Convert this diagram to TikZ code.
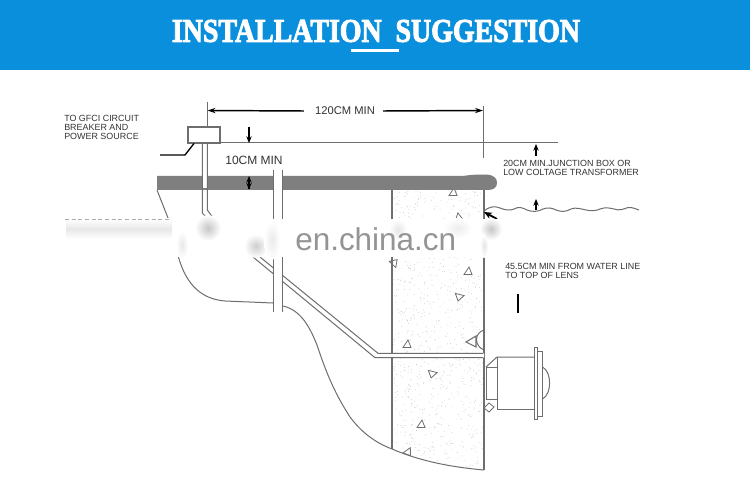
\documentclass[tikz,border=0pt]{standalone}
\usepackage{fontspec}
\setmainfont{Liberation Sans}
\newfontfamily\titlefont[BoldFeatures={FakeBold=3}]{Liberation Serif}
\usetikzlibrary{arrows.meta}
\definecolor{banner}{HTML}{0A8FDC}
\definecolor{ink}{HTML}{6E6E6E}
\definecolor{slab}{HTML}{7F7F7F}
\definecolor{label}{HTML}{333333}
\definecolor{mark}{HTML}{8A8A8A}
\tikzset{
  thin line/.style={draw=ink,line width=0.75pt},
  wall line/.style={draw=ink,line width=1.2pt},
  dim/.style={draw=black,line width=1.1pt,-{Stealth[length=6pt,width=4pt]}},
  small dim/.style={draw=black,line width=0.8pt,-{Stealth[length=5pt,width=4pt]}},
  small label/.style={font=\fontsize{6.7}{6.8}\selectfont,text=label,align=left,anchor=north west,inner sep=0pt},
  big label/.style={font=\fontsize{8.4}{10}\selectfont,text=label,anchor=center,inner sep=0pt},
  stone/.style={draw=ink,line width=0.6pt,fill=white},
}
\begin{document}
\begin{tikzpicture}[x=0.75pt,y=-0.75pt]
\useasboundingbox (0,0) rectangle (750,499);
\fill[white] (0,0) rectangle (750,499);
% banner
\fill[banner] (0,0) rectangle (750,70.5);
\node[text=white,inner sep=0pt,anchor=center] (title) at (376,31)
  {\resizebox{306pt}{16.4pt}{\titlefont\bfseries INSTALLATION\ \ SUGGESTION}};
\fill[white] (351,49.5) rectangle (399,52.5);
% concrete speckle
\pgfmathsetseed{4242}
\begin{scope}
\clip (392,190) -- (484,190) -- (484,470) .. controls (450,467) and (420,461) .. (392,449) -- cycle;
\foreach \i in {1,...,900}{
  \pgfmathsetmacro{\px}{393+rnd*90}
  \pgfmathsetmacro{\py}{191+rnd*279}
  \fill[black!24] (\px,\py) circle (0.32pt);
}
\end{scope}
% stones
\foreach \a/\b/\r in {453/192/0,458/217/15,468/271/0,460/296/-70,407/344/0,393/263/80,433/373/-70,421/424/0,408/451/-20}{
  \draw[stone,rotate around={\r:(\a,\b)}] (\a-4,\b+3.5) -- (\a+4,\b+3.5) -- (\a+1,\b-4) -- cycle;
}
\draw[stone,line width=0.8pt] (466,342) -- (476,336) -- (476,347) -- cycle;
% walls
\draw[wall line] (392,190) -- (392,449);
\draw[wall line,line width=1.4pt] (484,190) -- (484,470);
\draw[thin line] (392,449) .. controls (420,461) and (450,467) .. (484,470);
% liner
\draw[thin line] (157,190) -- (168,218) .. controls (172,232) and (176,250) .. (180,262)
  .. controls (187,283) and (200,299) .. (225,301) -- (273,303);
\draw[thin line] (283,306) .. controls (300,310) and (309,325) .. (317,345)
  .. controls (328,378) and (336,395) .. (350,417) .. controls (362,433) and (376,443) .. (392,449);
% conduit pipe 2
\fill[white] (253,257) -- (260,257) -- (378,353.3) -- (484,353.3) -- (484,357.7) -- (375,357.7) -- cycle;
\draw[thin line] (253,257) -- (375,357.7) -- (483,357.7);
\draw[thin line] (260,257) -- (378,353.3) -- (483,353.3);
% slab
\path[fill=slab] (157,176) -- (463,176) .. controls (472,174.5) and (480,174.5) .. (486,174.5)
  .. controls (495,175) and (497,179) .. (497,183) .. controls (497,187) and (494,190) .. (488,190)
  -- (157,190) -- cycle;
% vertical conduit 1
\fill[white] (202.3,143) rectangle (207.3,188);
\draw[thin line] (202.3,143) -- (202.3,213) -- (208,219);
\draw[thin line] (207.3,143) -- (207.3,210) -- (214,219);
% vertical conduit 2
\fill[white] (273.5,170) rectangle (282,312);
\draw[thin line] (273.5,170) -- (273.5,312);
\draw[thin line] (282,170) -- (282,312);
% dimension lines
\coordinate (dimL) at (207,102);
\coordinate (dimR) at (483,106);
\draw[thin line] (dimL) -- (207,127);
\draw[thin line] (dimR) -- (483,158);
\node[draw=ink,line width=0.9pt,fill=white,minimum width=24pt,minimum height=12pt,inner sep=0pt] (jbox) at (204,135) {};
\draw[thin line] (jbox.east |- 0,143) -- (558,143);
\coordinate (wireA) at (160,155);
\coordinate (wireB) at (185,155);
\draw[black,line width=1pt] (wireA) -- (wireB) -- (194,143.5);
\node[big label] (lenlabel) at (345,111) {120CM MIN};
\draw[dim] (lenlabel.west) ++(-11,0) -- (207.5,110.5);
\draw[dim] (lenlabel.east) ++(8,0) -- (483,110.5);
\node[big label,font=\fontsize{9}{10}\selectfont] (cm10) at (254,160.5) {10CM MIN};
\draw[small dim] (249,127) -- (249,143);
\draw[small dim] (249,189) -- (249,176);
\draw[small dim] (249,180) -- (249,189.5);
\draw[small dim] (536,156) -- (536,144);
\draw[small dim] (536,210) -- (536,199);
% labels
\node[small label] (gfci) at (64,115) {TO GFCI CIRCUIT\\BREAKER AND\\POWER SOURCE};
\node[small label] (twenty) at (503,159.5) {20CM MIN.JUNCTION BOX OR\\LOW COLTAGE TRANSFORMER};
\node[small label] (fortyfive) at (505,263) {45.5CM MIN FROM WATER LINE\\TO TOP OF LENS};
% water
\coordinate (waterA) at (484,211);
\coordinate (waterB) at (639,210);
\draw[thin line] (waterA) .. controls (490,206) and (495,206) .. (500,208)
  .. controls (505,210) and (510,211) .. (514,209) .. controls (519,206) and (523,208) .. (527,210)
  .. controls (532,212) and (538,212) .. (543,209) .. controls (548,207) and (552,208) .. (556,210)
  .. controls (561,212) and (566,212) .. (571,209) .. controls (576,207) and (581,209) .. (586,210)
  .. controls (591,211) and (596,211) .. (600,209) .. controls (605,207) and (610,208) .. (614,209)
  .. controls (619,211) and (624,209) .. (628,207.5) .. controls (632,207) and (636,209) .. (waterB);
\draw[black,line width=1.4pt,{Stealth[length=6pt,width=5pt]}-] (484,212) -- (497,219);
\draw[black,line width=1.6pt] (518,294) -- (518,313);
% lamp
\draw[thin line] (484,330) .. controls (474,333) and (474,346) .. (484,350);
\draw[thin line] (486,367) -- (497,357) -- (534,357);
\draw[thin line] (497,357) -- (497,409) -- (534,409);
\draw[thin line] (486,367) -- (497,367);
\draw[thin line] (486,367) -- (486,399) -- (497,399);
\draw[stone] (484,408) -- (489,403) -- (494,407) -- (489,412) -- cycle;
\draw[thin line,fill=white] (534.5,347.5) rectangle (537.5,419);
\draw[thin line,fill=white] (537.5,351) rectangle (542.5,416);
\draw[thin line] (542.5,367) .. controls (552,372) and (552,394) .. (542.5,399);
% watermark band
\fill[white] (64,219) rectangle (510,257);
\shade[top color=white,bottom color=white,middle color=mark!20] (66,219) rectangle (172,239);
\foreach \cx/\cy/\rx/\ry/\c in {208/228/13/13/48,182/245/6/14/20,256/246/12/12/42,272/240/8/20/18,398/230/9/11/22,491/229/11/11/48,484/246/4/12/22,458/228/14/10/16}{
  \shade[inner color=mark!\c,outer color=white] (\cx,\cy) ellipse [x radius=\rx,y radius=\ry];
}
\draw[mark!70,line width=0.7pt,dash pattern=on 3pt off 2pt] (65,219) -- (170,219);
\node[font=\fontsize{23.6}{28}\selectfont,text=black!42,inner sep=0pt,anchor=base west] (wm) at (295,250) {en.china.cn};
\end{tikzpicture}
\end{document}
